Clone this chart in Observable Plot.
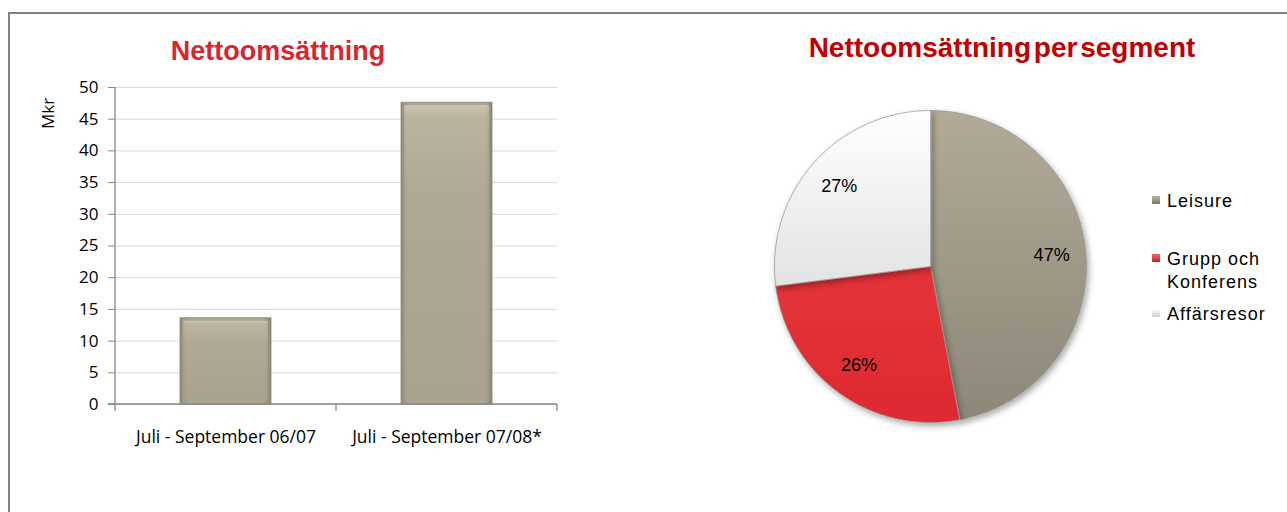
<!DOCTYPE html>
<html>
<head>
<meta charset="utf-8">
<script src="https://cdn.jsdelivr.net/npm/d3@7"></script>
<script src="https://cdn.jsdelivr.net/npm/@observablehq/plot@0.6"></script>
<style>
  html, body { margin: 0; padding: 0; background: #fff; }
  #page { position: relative; width: 1287px; height: 512px; overflow: hidden; background: #fff; }
  .frame { position: absolute; left: 8px; top: 12px; width: 1400px; height: 600px;
           border-left: 2px solid #808080; border-top: 2px solid #808080; }
  .title { position: absolute; font-family: "Liberation Sans", Arial, sans-serif; font-weight: bold;
           font-size: 27px; line-height: 31px; white-space: nowrap; transform: translateX(-50%); }
  #t1 { left: 278px; top: 36px; color: #d9262e; }
  #t2 { left: 1002px; top: 32px; color: #c00000; font-size: 28px; word-spacing: -5px; }
  #mkr { position: absolute; left: 38px; top: 129px; font-family: "Open Sans", sans-serif; font-size: 17px;
         line-height: 20px; transform: rotate(-90deg); transform-origin: left top; }
  .abs { position: absolute; }
  #legend { position: absolute; left: 1152px; top: 0; font-family: "Liberation Sans", Arial, sans-serif;
            font-size: 18px; color: #000; letter-spacing: 1px; }
  .li { position: absolute; white-space: nowrap; line-height: 23px; }
  .sw { position: absolute; left: 0; width: 8px; height: 8px; }
  .lt { position: absolute; left: 15px; }
</style>
</head>
<body>
<div id="page">
  <div class="frame"></div>
  <div class="title" id="t1">Nettoomsättning</div>
  <div class="title" id="t2">Nettoomsättning per segment</div>
  <div id="mkr">Mkr</div>
  <div class="abs" id="bar" style="left:0px; top:70px;"></div>
  <div class="abs" id="pie" style="left:760px; top:96px;"></div>
  <div id="legend"></div>
</div>
<script>
// ---- Data ----
const categories = ["Juli - September 06/07", "Juli - September 07/08*"];
const sales = [13.6, 47.6];
const yTicks = [0, 5, 10, 15, 20, 25, 30, 35, 40, 45, 50];
const yLabel = "Mkr";

const segments = ["Leisure", "Grupp och Konferens", "Affärsresor"];
const segmentLines = [["Leisure"], ["Grupp och", "Konferens"], ["Affärsresor"]];
const shares = [47, 26, 27];
const shareLabels = ["47%", "26%", "27%"];

document.getElementById("mkr").textContent = yLabel;

// ---- Styles ----
const segFill = ["url(#gLeisure)", "url(#gGrupp)", "url(#gAffar)"];
const segSwatch = [
  "linear-gradient(#b9b3a1, #7f7a6b)",
  "linear-gradient(#f06a6e, #c81e24)",
  "linear-gradient(#ffffff, #d0d0d0)"
];

function defs() {
  const g = d3.create("svg:g");
  const d = g.append("defs");
  const lg = (id, stops, x2 = 0, y2 = 1) => {
    const gr = d.append("linearGradient").attr("id", id)
      .attr("x1", 0).attr("y1", 0).attr("x2", x2).attr("y2", y2);
    stops.forEach(([o, c]) => gr.append("stop").attr("offset", o).attr("stop-color", c));
  };
  lg("gBar", [[0, "#e2dcc6"], [0.04, "#c4bea9"], [0.3, "#b0aa96"], [1, "#a6a08c"]]);
  lg("gBarH", [[0, "#8f8a7a"], [0.08, "#aca692"], [0.92, "#aca692"], [1, "#8a8575"]], 1, 0);
  lg("gLeisure", [[0, "#b1aa97"], [1, "#8c8777"]]);
  lg("gGrupp", [[0, "#e4333a"], [1, "#de2a30"]]);
  lg("gAffar", [[0, "#ffffff"], [1, "#e3e3e3"]]);
  const f = d.append("filter").attr("id", "shadow").attr("x", "-20%").attr("y", "-20%").attr("width", "140%").attr("height", "140%");
  f.append("feDropShadow").attr("dx", 2).attr("dy", 3).attr("stdDeviation", 3).attr("flood-color", "#000").attr("flood-opacity", 0.35);
  return g.node();
}

// ---- Bar chart ----
const barData = categories.map((c, i) => ({category: c, value: sales[i]}));
const axisColor = "#868686";

const barChart = Plot.plot({
  width: 600,
  height: 400,
  marginLeft: 115,
  marginRight: 43,
  marginTop: 17,
  marginBottom: 66,
  style: {fontFamily: "'Open Sans', sans-serif", fontSize: "17px", color: "#000", background: "transparent"},
  x: {domain: categories, paddingInner: 0.59, paddingOuter: 0.295, axis: null},
  y: {domain: [0, 50], axis: null},
  marks: [
    defs,
    Plot.gridY(yTicks, {stroke: "#d9d9d9", strokeOpacity: 1}),
    Plot.barY(barData, {x: "category", y: "value", fill: "url(#gBarH)", stroke: "#8a8575", strokeWidth: 0.8}),
    Plot.barY(barData, {x: "category", y: "value", fill: "url(#gBar)", fillOpacity: 0.6, inset: 3}),
    Plot.axisY(yTicks, {tickSize: 7, tickPadding: 10, stroke: axisColor, label: null, fontSize: 17}),
    Plot.axisX({tickSize: 0, tickPadding: 26, label: null, fontSize: 17.5}),
    (index, scales, values, dim) => {
      const g = d3.create("svg:g").attr("stroke", axisColor).attr("stroke-width", 1.3).attr("fill", "none");
      const x0 = dim.marginLeft, x1 = dim.width - dim.marginRight;
      const y0 = dim.height - dim.marginBottom, yt = dim.marginTop;
      g.append("line").attr("x1", x0).attr("x2", x0).attr("y1", yt).attr("y2", y0);
      g.append("line").attr("x1", x0 - 7).attr("x2", x1).attr("y1", y0).attr("y2", y0);
      const n = categories.length;
      for (let i = 0; i <= n; i++) {
        const x = x0 + (x1 - x0) * i / n;
        g.append("line").attr("x1", x).attr("x2", x).attr("y1", y0).attr("y2", y0 + 7);
      }
      return g.node();
    }
  ]
});
document.getElementById("bar").appendChild(barChart);

// ---- Pie chart ----
const pieIn = segments.map((s, i) => ({segment: s, value: shares[i], label: shareLabels[i], fill: segFill[i]}));
const arcs = d3.pie().sort(null).value(d => d.value)(pieIn);
const slicePts = arcs.map(a => {
  const pts = [{x: 0, y: 0}];
  const steps = Math.max(2, Math.ceil((a.endAngle - a.startAngle) / (Math.PI / 180)));
  for (let k = 0; k <= steps; k++) {
    const t = a.startAngle + (a.endAngle - a.startAngle) * k / steps;
    pts.push({x: Math.sin(t), y: Math.cos(t)});
  }
  return {segment: a.data.segment, fill: a.data.fill, pts};
});
const labelPos = arcs.map(a => {
  const m = (a.startAngle + a.endAngle) / 2;
  return {x: 0.78 * Math.sin(m), y: 0.78 * Math.cos(m), label: a.data.label};
});
const K = 170 / 156;
const pieChart = Plot.plot({
  width: 340,
  height: 340,
  margin: 0,
  style: {fontFamily: "'Liberation Sans', Arial, sans-serif", background: "transparent", overflow: "visible"},
  x: {domain: [-K, K], axis: null},
  y: {domain: [-K, K], axis: null},
  marks: [
    defs,
    ...slicePts.map(s => Plot.line(s.pts, {x: "x", y: "y", curve: "linear-closed", fill: s.fill,
      stroke: "#9a9a9a", strokeWidth: 0.8, strokeLinejoin: "round"})),
    Plot.text(labelPos, {x: "x", y: "y", text: "label", fontSize: 18, fill: "#000"})
  ]
});
pieChart.querySelectorAll("g[aria-label='line']").forEach(g => g.setAttribute("filter", "url(#shadow)"));
document.getElementById("pie").appendChild(pieChart);

// ---- Legend ----
const legendTop = [190, 248, 303];
const legend = document.getElementById("legend");
segments.forEach((s, i) => {
  const row = document.createElement("div");
  row.className = "li";
  row.style.top = legendTop[i] + "px";
  const sw = document.createElement("div");
  sw.className = "sw";
  sw.style.top = "6px";
  sw.style.background = segSwatch[i];
  row.appendChild(sw);
  const t = document.createElement("div");
  t.className = "lt";
  t.innerHTML = segmentLines[i].join("<br>");
  row.appendChild(t);
  legend.appendChild(row);
});
</script>
</body>
</html>
